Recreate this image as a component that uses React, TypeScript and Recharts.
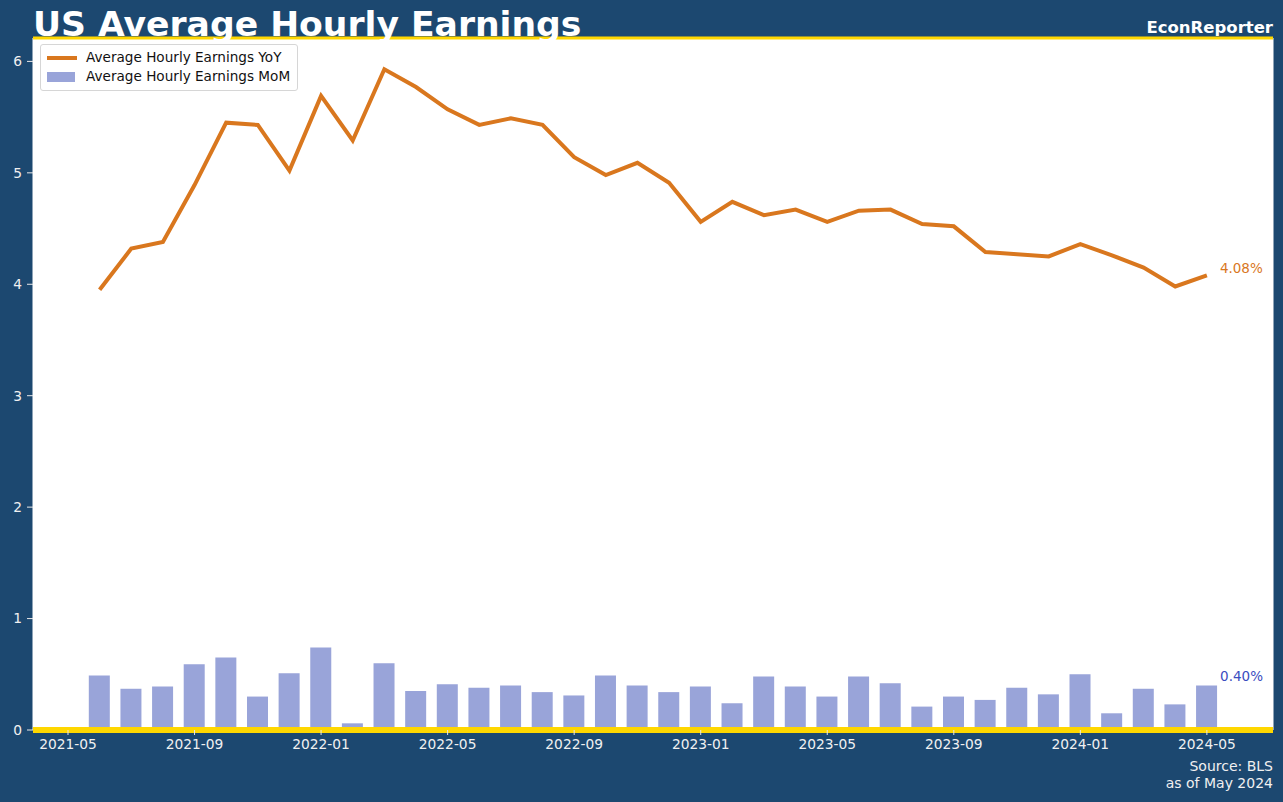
import {
  ComposedChart,
  Line,
  Bar,
  XAxis,
  YAxis,
  CartesianGrid,
  Legend,
  ReferenceLine,
  LabelList,
} from "recharts";

// months since 2021-05 (1 = 2021-06 ... 36 = 2024-05)
const months = [
  1, 2, 3, 4, 5, 6, 7, 8, 9, 10, 11, 12, 13, 14, 15, 16, 17, 18, 19, 20, 21, 22, 23, 24, 25, 26, 27, 28,
  29, 30, 31, 32, 33, 34, 35, 36,
];

const yoy = [
  3.95, 4.32, 4.38, 4.89, 5.45, 5.43, 5.02, 5.69, 5.29, 5.93, 5.77, 5.57, 5.43, 5.49, 5.43, 5.14, 4.98,
  5.09, 4.91, 4.56, 4.74, 4.62, 4.67, 4.56, 4.66, 4.67, 4.54, 4.52, 4.29, 4.27, 4.25, 4.36, 4.26, 4.15,
  3.98, 4.08,
];

const mom = [
  0.49, 0.37, 0.39, 0.59, 0.65, 0.3, 0.51, 0.74, 0.06, 0.6, 0.35, 0.41, 0.38, 0.4, 0.34, 0.31, 0.49, 0.4,
  0.34, 0.39, 0.24, 0.48, 0.39, 0.3, 0.48, 0.42, 0.21, 0.3, 0.27, 0.38, 0.32, 0.5, 0.15, 0.37, 0.23, 0.4,
];

const xTicks = [0, 4, 8, 12, 16, 20, 24, 28, 32, 36];
const xTickLabels = [
  "2021-05",
  "2021-09",
  "2022-01",
  "2022-05",
  "2022-09",
  "2023-01",
  "2023-05",
  "2023-09",
  "2024-01",
  "2024-05",
];
const yTicks = [0, 1, 2, 3, 4, 5, 6];

const data = months.map((m, i) => ({ m, yoy: yoy[i], mom: mom[i] }));

const BG = "#1c4870";
const ORANGE = "#d9771e";
const BAR = "#3349b3";
const YELLOW = "#ffd700";
const FONT = "DejaVu Sans, sans-serif";
const Y_MAX = 6.21;

function lastLabel(color: string, dx: number, dy: number) {
  return (props: any) => {
    const { x, y, width, value, index } = props;
    if (index !== data.length - 1) return null;
    const left = x + (Number(width) || 0) + dx;
    return (
      <text x={left} y={y + dy} fill={color} fontSize={13.5} fontFamily={FONT} dominantBaseline="middle">
        {Number(value).toFixed(2)}%
      </text>
    );
  };
}

function LegendBox() {
  return (
    <div
      style={{
        background: "white",
        border: "1px solid #d6d6d6",
        borderRadius: 3,
        padding: "3px 7px 4px 6px",
        fontFamily: FONT,
        fontSize: 13.6,
        color: "#111",
        lineHeight: "19px",
        whiteSpace: "nowrap",
      }}
    >
      <div style={{ display: "flex", alignItems: "center" }}>
        <span style={{ width: 30, height: 4, background: ORANGE, marginRight: 9 }} />
        Average Hourly Earnings YoY
      </div>
      <div style={{ display: "flex", alignItems: "center" }}>
        <span style={{ width: 28, height: 10, background: "#99a4d9", marginRight: 11 }} />
        Average Hourly Earnings MoM
      </div>
    </div>
  );
}

export default function App() {
  return (
    <div style={{ position: "absolute", left: 0, top: 0, width: 1283, height: 802, background: BG, fontFamily: FONT }}>
      <ComposedChart width={1283} height={802} data={data} margin={{ top: 38, right: 10, bottom: 0, left: 0 }}>
        <CartesianGrid fill="white" stroke="#ffffff" horizontal={false} />
        <XAxis
          dataKey="m"
          type="number"
          domain={[-1.106, 38.09]}
          ticks={xTicks}
          tickFormatter={(v) => xTickLabels[xTicks.indexOf(v)] ?? ""}
          height={72}
          tick={{ fill: "#f0f0f0", fontSize: 13.8, fontFamily: FONT }}
          tickLine={{ stroke: "#e8e8e8" }}
          tickSize={5}
          tickMargin={4}
          axisLine={{ stroke: YELLOW, strokeWidth: 6 }}
          allowDataOverflow
        />
        <YAxis
          type="number"
          domain={[0, Y_MAX]}
          ticks={yTicks}
          width={33}
          tick={{ fill: "#f0f0f0", fontSize: 13.8, fontFamily: FONT }}
          tickLine={{ stroke: "#e8e8e8" }}
          tickSize={6}
          tickMargin={5}
          axisLine={false}
          allowDataOverflow
        />
        <Bar dataKey="mom" fill={BAR} fillOpacity={0.5} barSize={21} isAnimationActive={false}>
          <LabelList dataKey="mom" content={lastLabel("#3a4cc0", 3, -8)} />
        </Bar>
        <Line
          dataKey="yoy"
          stroke={ORANGE}
          strokeWidth={4}
          dot={false}
          activeDot={false}
          isAnimationActive={false}
        >
          <LabelList dataKey="yoy" content={lastLabel(ORANGE, 13, -6)} />
        </Line>
        <ReferenceLine y={Y_MAX} stroke={YELLOW} strokeWidth={3} ifOverflow="visible" />
        <Legend
          layout="horizontal"
          verticalAlign="middle"
          align="center"
          wrapperStyle={{ left: 40, top: 44, width: "auto" }}
          content={() => <LegendBox />}
        />
      </ComposedChart>
      <div
        style={{
          position: "absolute",
          left: 33,
          top: 2,
          color: "white",
          fontWeight: "bold",
          fontSize: 34.6,
          lineHeight: "44px",
          whiteSpace: "nowrap",
        }}
      >
        US Average Hourly Earnings
      </div>
      <div
        style={{
          position: "absolute",
          right: 10,
          top: 18,
          color: "white",
          fontWeight: "bold",
          fontSize: 16.5,
          lineHeight: "20px",
        }}
      >
        EconReporter
      </div>
      <div
        style={{
          position: "absolute",
          right: 10,
          top: 758,
          color: "#f0f0f0",
          fontSize: 14,
          lineHeight: "17px",
          textAlign: "right",
        }}
      >
        Source: BLS
        <br />
        as of May 2024
      </div>
    </div>
  );
}
